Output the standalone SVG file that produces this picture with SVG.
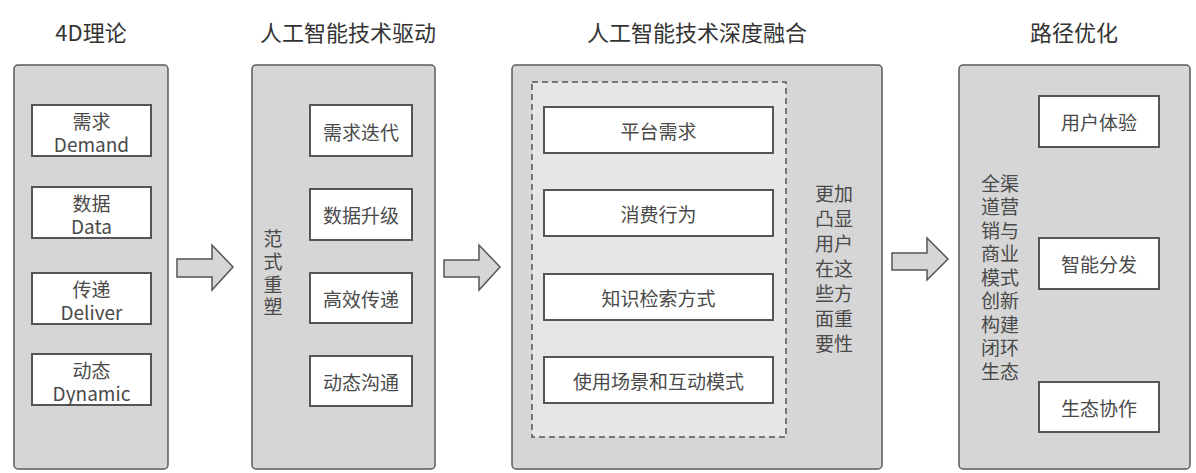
<svg xmlns="http://www.w3.org/2000/svg" width="1196" height="473" viewBox="0 0 1196 473">
<style>
text{font-family:"Noto Sans CJK SC","Noto Sans",sans-serif;text-anchor:middle;dominant-baseline:central;}
.title{font-size:22px;fill:#333;}
.t{font-size:19px;fill:#4a4a4a;}
.outer{fill:#d6d6d6;stroke:#5a5a5a;stroke-width:1.5;}
.box{fill:#fff;stroke:#555;stroke-width:2;}
.dash{fill:#e6e6e6;stroke:#555;stroke-width:1.5;stroke-dasharray:6 4;}
.arrow{fill:#d6d6d6;stroke:#555;stroke-width:1.5;stroke-linejoin:miter;}
</style>
<rect width="1196" height="473" fill="#fff"/>

<g id="titles">
<text class="title" x="91" y="31">4D理论</text>
<text class="title" x="348" y="31">人工智能技术驱动</text>
<text class="title" x="697" y="31">人工智能技术深度融合</text>
<text class="title" x="1074" y="31">路径优化</text>
</g>

<g id="col1">
<rect class="outer" x="14" y="65" width="154" height="404" rx="4"/>
<g id="n-demand"><rect class="box" x="32" y="105" width="119" height="51"/>
<text class="t"><tspan x="91.5" y="120">需求</tspan><tspan x="91.5" y="143">Demand</tspan></text></g>
<g id="n-data"><rect class="box" x="32" y="187" width="119" height="51"/>
<text class="t"><tspan x="91.5" y="202">数据</tspan><tspan x="91.5" y="225">Data</tspan></text></g>
<g id="n-deliver"><rect class="box" x="32" y="273" width="119" height="51"/>
<text class="t"><tspan x="91.5" y="288">传递</tspan><tspan x="91.5" y="311">Deliver</tspan></text></g>
<g id="n-dynamic"><rect class="box" x="32" y="354" width="119" height="51"/>
<text class="t"><tspan x="91.5" y="369">动态</tspan><tspan x="91.5" y="392">Dynamic</tspan></text></g>
</g>

<g id="col2">
<rect class="outer" x="252" y="65" width="183" height="404" rx="4"/>
<g id="side2"><text class="t"><tspan x="273" y="237">范</tspan><tspan x="273" y="260">式</tspan><tspan x="273" y="283">重</tspan><tspan x="273" y="305">塑</tspan></text></g>
<g id="n-xuqiu"><rect class="box" x="310" y="105" width="102" height="51"/><text class="t" x="361" y="131">需求迭代</text></g>
<g id="n-shuju"><rect class="box" x="310" y="189" width="102" height="51"/><text class="t" x="361" y="214">数据升级</text></g>
<g id="n-gaoxiao"><rect class="box" x="310" y="273" width="102" height="50"/><text class="t" x="361" y="298">高效传递</text></g>
<g id="n-dongtai"><rect class="box" x="310" y="356" width="102" height="50"/><text class="t" x="361" y="381">动态沟通</text></g>
</g>

<g id="col3">
<rect class="outer" x="512" y="65" width="370" height="404" rx="4"/>
<rect class="dash" x="532" y="82" width="254" height="355"/>
<g id="n-pingtai"><rect class="box" x="544" y="107" width="229" height="46"/><text class="t" x="658.5" y="130">平台需求</text></g>
<g id="n-xiaofei"><rect class="box" x="544" y="190" width="229" height="46"/><text class="t" x="658.5" y="213">消费行为</text></g>
<g id="n-zhishi"><rect class="box" x="544" y="274" width="229" height="46"/><text class="t" x="658.5" y="297">知识检索方式</text></g>
<g id="n-shiyong"><rect class="box" x="544" y="357" width="229" height="46"/><text class="t" x="658.5" y="380">使用场景和互动模式</text></g>
<g id="side3">
<text class="t"><tspan x="834" y="192">更加</tspan><tspan x="834" y="217">凸显</tspan><tspan x="834" y="242">用户</tspan><tspan x="834" y="267">在这</tspan><tspan x="834" y="292">些方</tspan><tspan x="834" y="317">面重</tspan><tspan x="834" y="342">要性</tspan></text>
</g>
</g>

<g id="col4">
<rect class="outer" x="959" y="65" width="231" height="404" rx="4"/>
<g id="side4">
<text class="t"><tspan x="1000" y="182">全渠</tspan><tspan x="1000" y="205">道营</tspan><tspan x="1000" y="229">销与</tspan><tspan x="1000" y="252">商业</tspan><tspan x="1000" y="276">模式</tspan><tspan x="1000" y="299">创新</tspan><tspan x="1000" y="323">构建</tspan><tspan x="1000" y="346">闭环</tspan><tspan x="1000" y="370">生态</tspan></text>
</g>
<g id="n-yonghu"><rect class="box" x="1039" y="96" width="120" height="51"/><text class="t" x="1099" y="121">用户体验</text></g>
<g id="n-zhineng"><rect class="box" x="1039" y="238" width="120" height="51"/><text class="t" x="1099" y="263">智能分发</text></g>
<g id="n-shengtai"><rect class="box" x="1039" y="382" width="120" height="50"/><text class="t" x="1099" y="407">生态协作</text></g>
</g>

<g id="connectors">
<polygon class="arrow" points="177,259 212,259 212,245 233,267 212,290 212,277 177,277"/>
<polygon class="arrow" points="444,260 479,260 479,245 500,267 479,290 479,277 444,277"/>
<polygon class="arrow" points="892,253 927,253 927,238 948,259 927,280 927,270 892,270"/>
</g>
</svg>
